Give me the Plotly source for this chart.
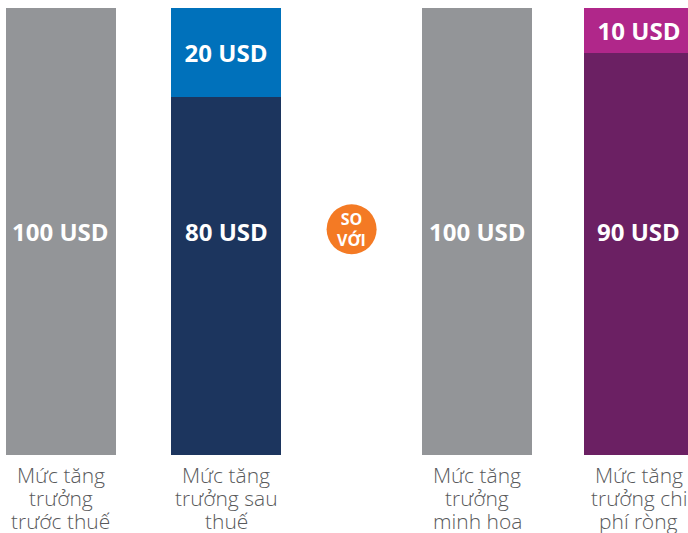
import plotly.graph_objects as go

# ---- data ----
categories = [["Mức tăng", "trưởng", "trước thuế"], ["Mức tăng", "trưởng sau", "thuế"],
              ["Mức tăng", "trưởng", "minh hoa"], ["Mức tăng", "trưởng chi", "phí ròng"]]
base_values = [100, 80, 100, 90]
top_values = [0, 20, 0, 10]
base_labels = ["100 USD", "80 USD", "100 USD", "90 USD"]
top_labels = ["", "20 USD", "", "10 USD"]
compare_text = "SO<br>VỚI"

# ---- layout / styles ----
xpos = [0, 1.01, 2.545, 3.535]
base_colors = ["#939598", "#1c355e", "#939598", "#6b2063"]
top_colors = ["#939598", "#0071bb", "#939598", "#b0278a"]
bar_w = 0.673
unit_left = -0.373
x_range = [unit_left, unit_left + 688 / 163.5]
LABEL_FONT = dict(family="Open Sans Light, Open Sans", size=21, color="#58595b", weight=300)

fig = go.Figure()
fig.add_trace(go.Bar(x=xpos, y=base_values, width=bar_w, marker=dict(color=base_colors, line=dict(width=0)),
                     hoverinfo="skip"))
fig.add_trace(go.Bar(x=xpos, y=top_values, width=bar_w, marker=dict(color=top_colors, line=dict(width=0)),
                     text=top_labels, textposition="inside", insidetextanchor="middle",
                     textfont=dict(family="Open Sans", size=24, color="white", weight="bold"),
                     textangle=0, hoverinfo="skip"))

totals = [b + t for b, t in zip(base_values, top_values)]
for x, lab, tot in zip(xpos, base_labels, totals):
    fig.add_annotation(x=x, y=tot / 2, text=lab, showarrow=False, xref="x", yref="y",
                       font=dict(family="Open Sans", size=24, color="white", weight="bold"))

# category labels, one line each for tight line spacing
for x, lines in zip(xpos, categories):
    for i, line in enumerate(lines):
        fig.add_annotation(x=x, y=0, xref="x", yref="paper", yanchor="top", text=line,
                           showarrow=False, yshift=-4 - 23 * i, font=LABEL_FONT)

mid_x = (xpos[1] + xpos[2]) / 2
fig.add_shape(type="circle", xref="x", yref="y", xsizemode="pixel", ysizemode="pixel",
              xanchor=mid_x, yanchor=50.5, x0=-25, x1=25, y0=-25, y1=25,
              fillcolor="#f47a24", line=dict(width=0), layer="above")
fig.add_annotation(x=mid_x, y=50.5, text=compare_text, showarrow=False, xref="x", yref="y",
                   font=dict(family="Open Sans", size=16, color="white", weight="bold"))

fig.update_layout(
    width=688, height=533, barmode="stack", showlegend=False,
    plot_bgcolor="white", paper_bgcolor="white",
    margin=dict(l=0, r=0, t=8, b=78), bargap=0,
    xaxis=dict(range=x_range, showticklabels=False, showgrid=False, zeroline=False,
               showline=False, ticks="", fixedrange=True),
    yaxis=dict(range=[0, 100], visible=False, fixedrange=True),
)
fig.write_html("out.html", config={"displayModeBar": False},
               post_script="document.body.style.margin='0';document.body.style.overflow='hidden';")
